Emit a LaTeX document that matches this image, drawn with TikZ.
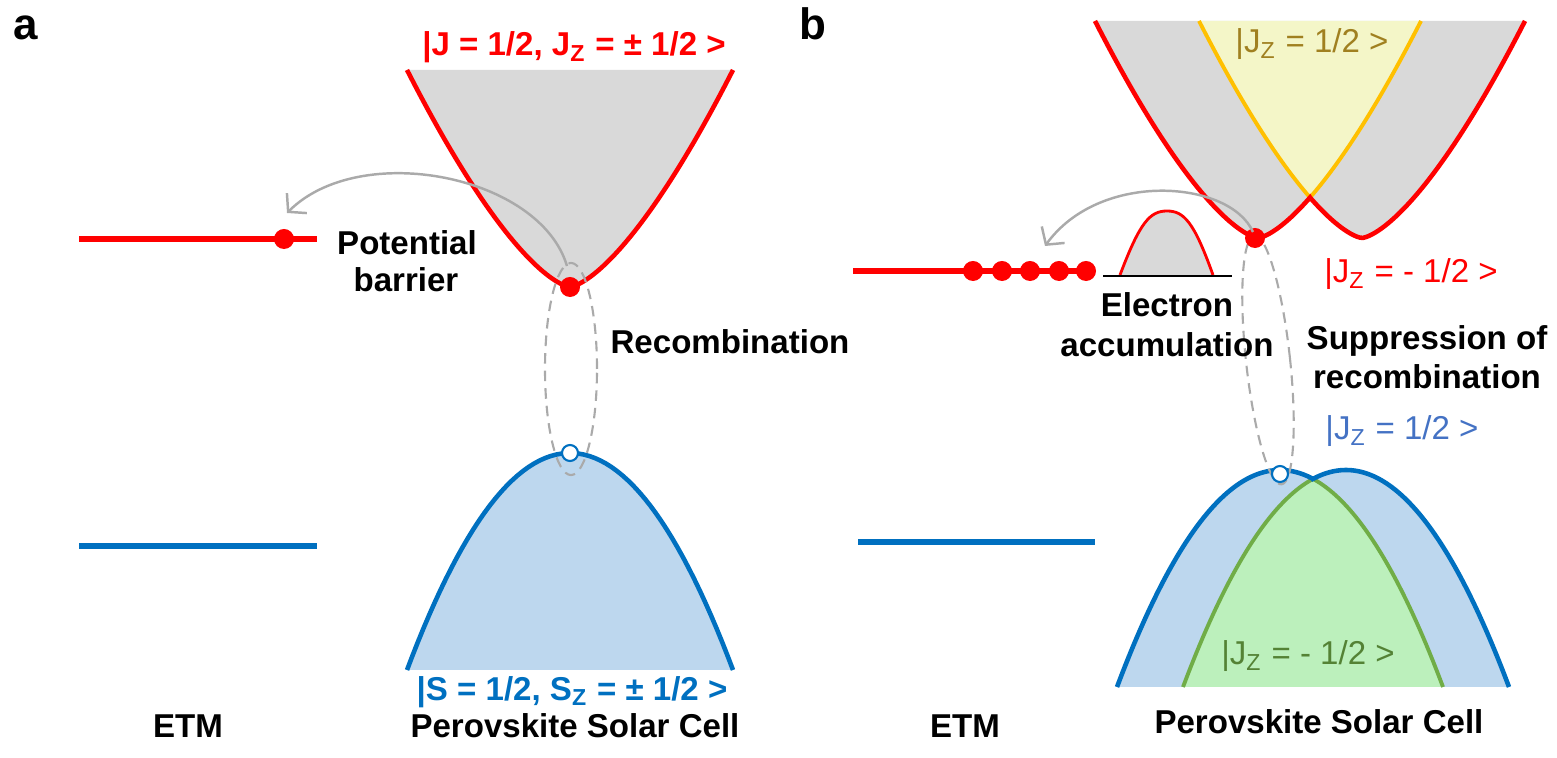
\documentclass[tikz,border=0pt]{standalone}
\usepackage{fontspec}
\setmainfont{Liberation Sans}
\usetikzlibrary{arrows.meta}
\definecolor{cbred}{RGB}{255,0,0}
\definecolor{cbgray}{RGB}{217,217,217}
\definecolor{vbblue}{RGB}{0,112,192}
\definecolor{vbfill}{RGB}{189,215,238}
\definecolor{yline}{RGB}{255,192,0}
\definecolor{yfill}{RGB}{244,246,200}
\definecolor{ytext}{RGB}{160,128,32}
\definecolor{gline}{RGB}{112,173,71}
\definecolor{gfill}{RGB}{188,240,188}
\definecolor{gtext}{RGB}{84,130,53}
\definecolor{btext}{RGB}{68,114,196}
\definecolor{arrgray}{RGB}{170,170,170}
\begin{document}
\begin{tikzpicture}[x=0.01cm,y=-0.01cm,
  lbl/.style={font=\fontsize{9.4}{11}\selectfont\bfseries, inner sep=0pt, anchor=base},
  slbl/.style={font=\fontsize{9.4}{11}\selectfont, inner sep=0pt, anchor=base},
  panel/.style={font=\fontsize{12.5}{14}\selectfont\bfseries, inner sep=0pt, anchor=base west},
  band/.style={line width=1.3pt},
  etm/.style={line width=1.5pt},
  elec/.style={circle, fill=cbred, inner sep=0pt, minimum size=0.2cm},
  hole/.style={circle, draw=vbblue, fill=white, line width=0.6pt, inner sep=0pt, minimum size=0.16cm},
  recomb/.style={draw=arrgray, dash pattern=on 3pt off 2pt, line width=0.6pt},
  hop/.style={draw=arrgray, line width=0.7pt, -{Straight Barb[length=3.5pt,width=8pt]}},
  declare function={
    cbA(\x)=287-0.1215*pow(abs(\x-570)+0.01,1.47);
    vbA(\x)=453+217*((\x-570)/163)*((\x-570)/163);
    cbL(\x)=238-0.1215*pow(abs(\x-1258)+0.01,1.47);
    cbR(\x)=238-0.1215*pow(abs(\x-1362)+0.01,1.47);
    vbL(\x)=470+217*((\x-1280)/163)*((\x-1280)/163);
    vbR(\x)=470+217*((\x-1346)/163)*((\x-1346)/163);
  }
]
\useasboundingbox (0,0) rectangle (1557,758);

% ---------------- panel a ----------------
\fill[cbgray] plot[domain=407:733,samples=90] (\x,{cbA(\x)}) -- cycle;
\draw[cbred,band] plot[domain=407:733,samples=90] (\x,{cbA(\x)});
\fill[vbfill] plot[domain=407:733,samples=60] (\x,{vbA(\x)}) -- cycle;
\draw[vbblue,band] plot[domain=407:733,samples=60] (\x,{vbA(\x)});

\draw[cbred,etm] (79,239) -- (317,239);
\draw[vbblue,etm] (79,546) -- (317,546);

\draw[recomb] (571,369) ellipse [x radius=0.26cm, y radius=1.06cm];

\node[elec] (etmA) at (284,239) {};
\node[elec] (cbdotA) at (570,287) {};
\node[hole] (holeA) at (570,453) {};
\coordinate (hopAS) at (567,266);
\coordinate (hopAE) at (287,213);
\draw[hop] (hopAS) .. controls (540,175) and (360,140) .. (hopAE);

\node[panel] (la) at (13,40) {a};
\node[lbl,text=cbred] (cbAlbl) at (574,56) {|J = 1/2, J\textsubscript{Z} = ± 1/2 >};
\node[lbl,text=vbblue] (vbAlbl) at (572,700) {|S = 1/2, S\textsubscript{Z} = ± 1/2 >};
\node[lbl] (pscA) at (575,737) {Perovskite Solar Cell};
\node[lbl] (etmlA) at (188,737) {ETM};
\node[lbl] (pot1) at (407,255) {Potential};
\node[lbl] (pot2) at (406,292) {barrier};
\node[lbl] (recA) at (730,354) {Recombination};

% ---------------- panel b ----------------
\fill[cbgray] plot[domain=1095:1310,samples=70] (\x,{cbL(\x)}) -- plot[domain=1310:1525,samples=70] (\x,{cbR(\x)}) -- cycle;
\fill[yfill] plot[domain=1199:1310,samples=40] (\x,{cbR(\x)}) -- plot[domain=1310:1421,samples=40] (\x,{cbL(\x)}) -- cycle;
\draw[yline,line width=1.1pt] plot[domain=1199:1310,samples=40] (\x,{cbR(\x)}) -- plot[domain=1310:1421,samples=40] (\x,{cbL(\x)});
\draw[cbred,band] plot[domain=1095:1310,samples=70] (\x,{cbL(\x)}) -- plot[domain=1310:1525,samples=70] (\x,{cbR(\x)});

\fill[vbfill] plot[domain=1117:1313,samples=60] (\x,{vbL(\x)}) -- plot[domain=1313:1509,samples=60] (\x,{vbR(\x)}) -- cycle;
\fill[gfill] plot[domain=1183:1313,samples=40] (\x,{vbR(\x)}) -- plot[domain=1313:1443,samples=40] (\x,{vbL(\x)}) -- cycle;
\draw[gline,line width=1.1pt] plot[domain=1183:1313,samples=40] (\x,{vbR(\x)}) -- plot[domain=1313:1443,samples=40] (\x,{vbL(\x)});
\draw[vbblue,band] plot[domain=1117:1313,samples=60] (\x,{vbL(\x)}) -- plot[domain=1313:1509,samples=60] (\x,{vbR(\x)});

% barrier bump
\fill[cbgray] (1120,275) .. controls (1140,222) and (1150,211) .. (1167,211) .. controls (1184,211) and (1194,222) .. (1213,275) -- cycle;
\draw[cbred,line width=0.8pt] (1120,275) .. controls (1140,222) and (1150,211) .. (1167,211) .. controls (1184,211) and (1194,222) .. (1213,275);
\draw[black,line width=0.8pt] (1103,276) -- (1232,276);

\draw[cbred,etm] (853,271) -- (1086,271);
\draw[vbblue,etm] (858,542) -- (1095,542);

\draw[recomb,rotate around={6.2:(1268,360)}] (1268,360) ellipse [x radius=0.22cm, y radius=1.25cm];

\foreach \i/\xx in {1/973,2/1002,3/1030,4/1059,5/1086} {\node[elec] (etmB\i) at (\xx,271) {};}
\node[elec] (cbdotB) at (1255,238) {};
\node[hole] (holeB) at (1280,474) {};
\coordinate (hopBS) at (1253,232);
\coordinate (hopBE) at (1045,246);
\draw[hop] (hopBS) .. controls (1230,180) and (1100,170) .. (hopBE);

\node[panel] (lb) at (799,40) {b};
\node[slbl,text=ytext] (ylbl) at (1312,53) {|J\textsubscript{Z} = 1/2 >};
\node[slbl,text=cbred] (rlbl) at (1411,283) {|J\textsubscript{Z} = - 1/2 >};
\node[slbl,text=btext] (blbl) at (1402,440) {|J\textsubscript{Z} = 1/2 >};
\node[slbl,text=gtext] (glbl) at (1308,665) {|J\textsubscript{Z} = - 1/2 >};
\node[lbl] (el1) at (1167,317) {Electron};
\node[lbl] (el2) at (1167,357) {accumulation};
\node[lbl] (sup1) at (1427,350) {Suppression of};
\node[lbl] (sup2) at (1427,389) {recombination};
\node[lbl] (pscB) at (1319,734) {Perovskite Solar Cell};
\node[lbl] (etmlB) at (965,737) {ETM};
\end{tikzpicture}
\end{document}
